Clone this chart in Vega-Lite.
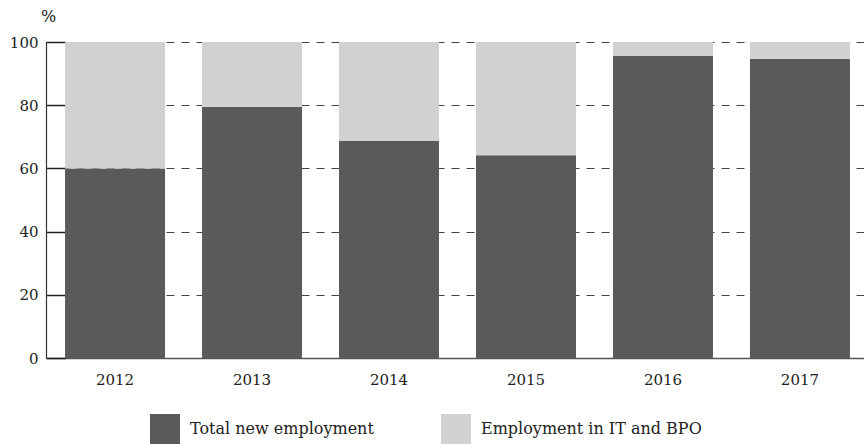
{
  "$schema": "https://vega.github.io/schema/vega-lite/v6.json",
  "autosize": "none",
  "width": 823,
  "height": 316,
  "padding": {"left": 46, "top": 42, "right": 0, "bottom": 86},
  "background": "white",
  "config": {
    "font": "DejaVu Serif",
    "view": {"stroke": null}
  },
  "data": {
    "values": [
      {"year": "2012", "series": "Total new employment", "value": 60},
      {"year": "2013", "series": "Total new employment", "value": 79.4},
      {"year": "2014", "series": "Total new employment", "value": 68.7},
      {"year": "2015", "series": "Total new employment", "value": 64.2},
      {"year": "2016", "series": "Total new employment", "value": 95.6},
      {"year": "2017", "series": "Total new employment", "value": 94.6},
      {"year": "2012", "series": "Employment in IT and BPO", "value": 40},
      {"year": "2013", "series": "Employment in IT and BPO", "value": 20.6},
      {"year": "2014", "series": "Employment in IT and BPO", "value": 31.3},
      {"year": "2015", "series": "Employment in IT and BPO", "value": 35.8},
      {"year": "2016", "series": "Employment in IT and BPO", "value": 4.4},
      {"year": "2017", "series": "Employment in IT and BPO", "value": 5.4}
    ]
  },
  "mark": {"type": "bar"},
  "encoding": {
    "x": {
      "field": "year",
      "type": "ordinal",
      "scale": {"paddingInner": 0.27, "paddingOuter": 0.139},
      "axis": {
        "title": null,
        "labelAngle": 0,
        "labelFontSize": 15,
        "labelColor": "#222",
        "labelPadding": 14,
        "ticks": false,
        "domainColor": "#555",
        "domainWidth": 1.5
      }
    },
    "y": {
      "field": "value",
      "type": "quantitative",
      "stack": "zero",
      "scale": {"domain": [0, 100]},
      "axis": {
        "values": [0, 20, 40, 60, 80, 100],
        "title": "%",
        "titleAngle": 0,
        "titleAlign": "center",
        "titleBaseline": "middle",
        "titleX": 2,
        "titleY": -26,
        "titleFontSize": 16,
        "titleFontWeight": "normal",
        "titleColor": "#222",
        "labelFontSize": 15,
        "labelColor": "#222",
        "labelPadding": 27,
        "tickSize": -19,
        "tickColor": "#222",
        "tickWidth": 1.5,
        "domainColor": "#333",
        "domainWidth": 1.2,
        "grid": true,
        "gridColor": "#444",
        "gridWidth": 1.2,
        "gridDash": [8, 7]
      }
    },
    "color": {
      "field": "series",
      "type": "nominal",
      "sort": ["Total new employment", "Employment in IT and BPO"],
      "scale": {
        "domain": ["Total new employment", "Employment in IT and BPO"],
        "range": ["#5a5a59", "#d0d1d0"]
      },
      "legend": {
        "title": null,
        "orient": "none",
        "legendX": 104,
        "legendY": 372,
        "direction": "horizontal",
        "symbolType": "square",
        "symbolSize": 900,
        "symbolStrokeWidth": 0,
        "labelFontSize": 16,
        "labelColor": "#222",
        "labelOffset": 10,
        "labelLimit": 400,
        "columnPadding": 67
      }
    },
    "order": {"field": "series", "sort": "descending"}
  }
}
